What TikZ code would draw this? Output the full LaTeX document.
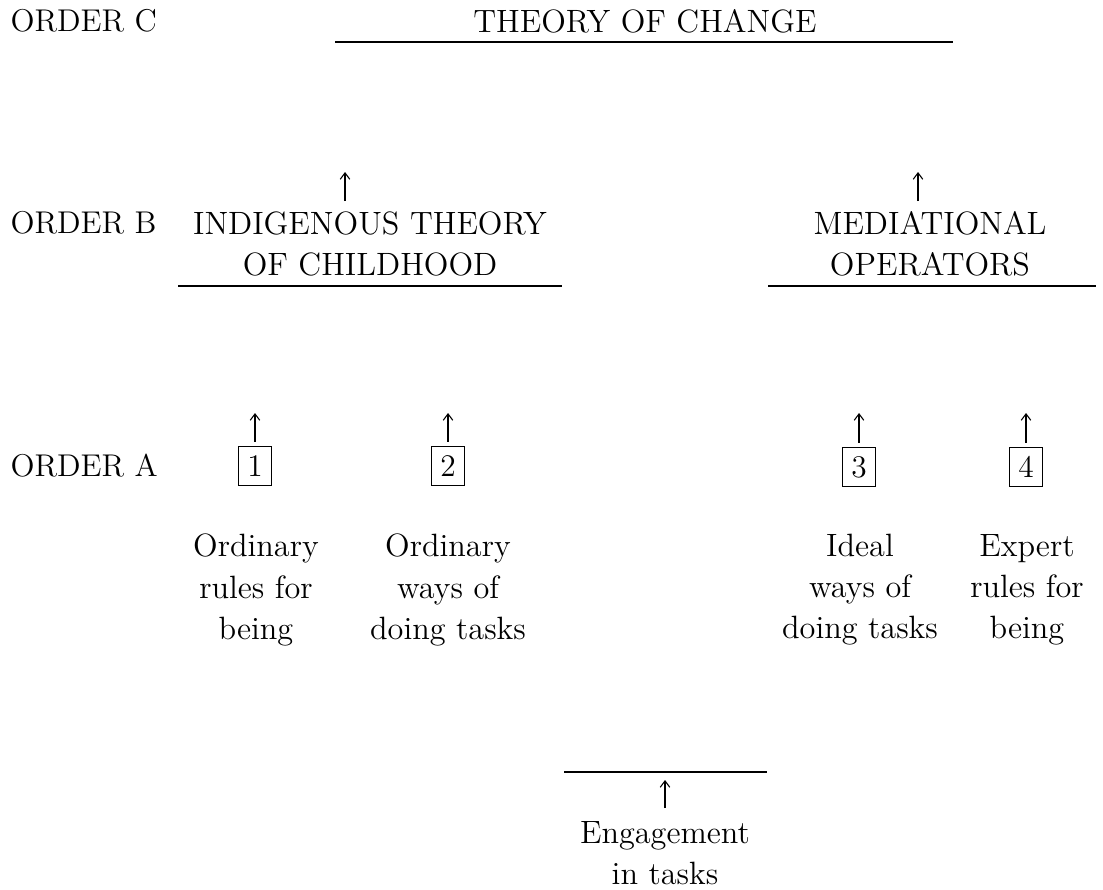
\documentclass[tikz,border=0pt]{standalone}
\usetikzlibrary{arrows.meta}
\begin{document}
\begin{tikzpicture}[x=0.375pt,y=-0.375pt,
  txt/.style={font=\fontsize{12.1}{15.4}\selectfont, inner sep=0pt, align=center},
  ordlab/.style={font=\fontsize{11.8}{15.4}\selectfont, inner sep=0pt, anchor=west},
  numbox/.style={draw, line width=0.45pt, font=\fontsize{11.8}{14}\selectfont, inner sep=0pt, minimum width=12.6pt, minimum height=14.6pt},
  rule/.style={line width=0.55pt},
  uparr/.style={line width=0.4pt, -{Straight Barb[length=2.4pt,width=3.6pt]}}]
\useasboundingbox (0,0) rectangle (1103,889);
% order labels
\node[ordlab] (oc) at (10,21) {ORDER C};
\node[ordlab] (ob) at (10,223) {ORDER B};
\node[ordlab] (oa) at (10,466) {ORDER A};
% order C
\node[txt] (toc) at (645,21) {THEORY OF CHANGE};
\coordinate (lc1) at (335,42);
\coordinate (lc2) at (953,42);
\draw[rule] (lc1) -- (lc2);
% order B
\node[txt] (itc) at (370,244) {INDIGENOUS THEORY\\OF CHILDHOOD};
\node[txt] (mo) at (930,244) {MEDIATIONAL\\OPERATORS};
\coordinate (lb1) at (178,286);
\coordinate (lb2) at (562,286);
\coordinate (lb3) at (768,286);
\coordinate (lb4) at (1096,286);
\draw[rule] (lb1) -- (lb2);
\draw[rule] (lb3) -- (lb4);
\coordinate (ab1) at (345,172);
\coordinate (ab2) at (918,172);
\draw[uparr] (345,201) -- (ab1);
\draw[uparr] (918,201) -- (ab2);
% order A boxes
\node[numbox] (b1) at (255,466) {1};
\node[numbox] (b2) at (448,466) {2};
\node[numbox] (b3) at (859,467) {3};
\node[numbox] (b4) at (1026,467) {4};
\coordinate (aa1) at (255,413);
\coordinate (aa2) at (448,413);
\coordinate (aa3) at (859,413);
\coordinate (aa4) at (1026,413);
\draw[uparr] ([yshift=1.5pt]b1.north) -- (aa1);
\draw[uparr] ([yshift=1.5pt]b2.north) -- (aa2);
\draw[uparr] ([yshift=1.5pt]b3.north) -- (aa3);
\draw[uparr] ([yshift=1.5pt]b4.north) -- (aa4);
% descriptions
\node[txt] (d1) at (256,590) {Ordinary\\rules for\\being};
\node[txt] (d2) at (448,590) {Ordinary\\ways of\\doing tasks};
\node[txt] (d3) at (860,590) {Ideal\\ways of\\doing tasks};
\node[txt] (d4) at (1027,590) {Expert\\rules for\\being};
% bottom
\coordinate (le1) at (564,772);
\coordinate (le2) at (767,772);
\draw[rule] (le1) -- (le2);
\node[txt] (eng) at (665,853) {Engagement\\in tasks};
\coordinate (ae) at (665,780);
\draw[uparr] (665,808) -- (ae);
\end{tikzpicture}
\end{document}
